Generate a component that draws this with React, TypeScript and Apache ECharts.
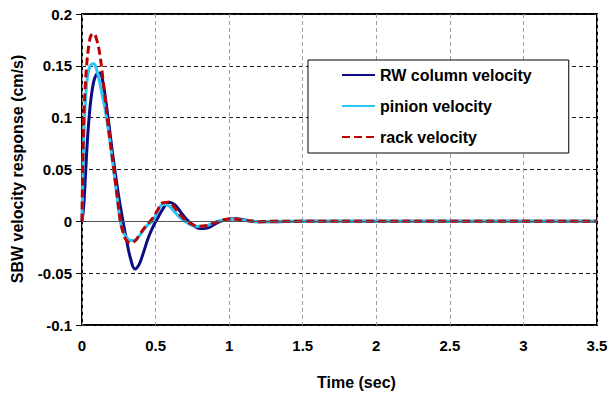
import React, { useEffect, useRef } from "react";
import * as echarts from "echarts";

const timeSec = [0, 0.01, 0.02, 0.03, 0.04, 0.05, 0.06, 0.08, 0.1, 0.12, 0.14, 0.16, 0.18, 0.2, 0.22, 0.24, 0.26, 0.28, 0.3, 0.33, 0.36, 0.39, 0.42, 0.45, 0.48, 0.51, 0.55, 0.59, 0.63, 0.67, 0.71, 0.75, 0.8, 0.85, 0.9, 0.95, 1.0, 1.05, 1.1, 1.2, 1.3, 1.5, 2, 2.5, 3, 3.5];

const rwColumn = [0, 0.012, 0.035, 0.062, 0.085, 0.103, 0.117, 0.135, 0.142, 0.143, 0.136, 0.118, 0.097, 0.074, 0.053, 0.033, 0.015, -0.001, -0.016, -0.036, -0.046, -0.041, -0.029, -0.016, -0.006, 0.002, 0.012, 0.0183, 0.016, 0.009, 0.002, -0.003, -0.007, -0.0065, -0.003, 0.0005, 0.0022, 0.0025, 0.0015, -0.0005, -0.0004, 0, 0, 0, 0, 0];

const pinion = [0, 0.07, 0.108, 0.13, 0.142, 0.148, 0.151, 0.152, 0.146, 0.134, 0.12, 0.106, 0.087, 0.066, 0.044, 0.022, 0.0, -0.01, -0.015, -0.0185, -0.0185, -0.014, -0.008, -0.003, 0.0, 0.008, 0.0165, 0.015, 0.009, 0.003, -0.001, -0.004, -0.005, -0.004, -0.001, 0.001, 0.002, 0.002, 0.001, -0.0003, 0, 0, 0, 0, 0, 0];

const rack = [0, 0.09, 0.125, 0.148, 0.163, 0.173, 0.179, 0.181, 0.175, 0.162, 0.14, 0.115, 0.09, 0.068, 0.046, 0.023, 0.001, -0.011, -0.018, -0.021, -0.019, -0.013, -0.007, -0.002, 0.003, 0.01, 0.018, 0.0185, 0.013, 0.006, 0.0005, -0.003, -0.0048, -0.004, -0.0015, 0.001, 0.0023, 0.002, 0.001, -0.0003, 0, 0, 0, 0, 0, 0];

const seriesNames = ["RW column velocity", "pinion velocity", "rack velocity"];
const xTitle = "Time (sec)";
const yTitle = "SBW velocity response (cm/s)";

const FONT = "'Liberation Sans', Arial, sans-serif";

function pairs(vals: number[]) {
  return timeSec.map((t, i) => [t, vals[i]]);
}

export default function App() {
  const ref = useRef<HTMLDivElement>(null);
  useEffect(() => {
    if (!ref.current) return;
    const chart = echarts.init(ref.current, undefined, { renderer: "svg" });
    chart.setOption({
      animation: false,
      backgroundColor: "#fff",
      textStyle: { fontFamily: FONT },
      grid: {
        left: 82,
        right: 14,
        top: 14,
        bottom: 73,
        show: true,
        borderColor: "#000",
        borderWidth: 2,
        backgroundColor: "transparent",
      },
      xAxis: {
        type: "value",
        min: 0,
        max: 3.5,
        interval: 0.5,
        axisLine: { show: false },
        axisTick: { show: false },
        axisLabel: {
          margin: 13,
          fontSize: 15,
          fontWeight: "bold",
          color: "#000",
          fontFamily: FONT,
        },
        splitLine: {
          show: true,
          lineStyle: { color: "#a0a0a0", type: [4, 3], width: 1 },
        },
      },
      yAxis: {
        type: "value",
        min: -0.1,
        max: 0.2,
        interval: 0.05,
        axisLine: { show: false },
        axisTick: {
          show: true,
          inside: false,
          length: 6,
          lineStyle: { color: "#000", width: 1 },
        },
        axisLabel: {
          margin: 10,
          fontSize: 15,
          fontWeight: "bold",
          color: "#000",
          fontFamily: FONT,
          formatter: (v: number) => String(Math.round(v * 100) / 100),
        },
        splitLine: {
          show: true,
          lineStyle: { color: "#222", type: [4, 3], width: 1 },
        },
      },
      legend: {
        orient: "vertical",
        left: 308,
        top: 60,
        padding: [7, 37, 8, 33],
        itemGap: 15,
        itemWidth: 33,
        itemHeight: 16,
        itemStyle: { opacity: 0 },
        backgroundColor: "#fff",
        borderColor: "#000",
        borderWidth: 1,
        borderRadius: 0,
        textStyle: {
          fontSize: 16,
          fontWeight: "bold",
          color: "#000",
          fontFamily: FONT,
          lineHeight: 16,
        },
        data: seriesNames,
      },
      graphic: [
        {
          type: "text",
          left: 317,
          top: 374,
          style: {
            text: xTitle,
            fontSize: 16,
            fontWeight: "bold",
            fill: "#000",
            fontFamily: FONT,
          },
        },
        {
          type: "text",
          x: 17,
          y: 169,
          rotation: Math.PI / 2,
          style: {
            text: yTitle,
            fontSize: 16,
            fontWeight: "bold",
            fill: "#000",
            fontFamily: FONT,
            align: "center",
            verticalAlign: "middle",
          },
        },
      ],
      series: [
        {
          name: seriesNames[0],
          type: "line",
          data: pairs(rwColumn),
          smooth: 0.4,
          symbol: "none",
          color: "#0b0b84",
          lineStyle: { color: "#0b0b84", width: 3 },
          markLine: {
            silent: true,
            symbol: "none",
            label: { show: false },
            lineStyle: { color: "#555", type: "solid", width: 1 },
            data: [{ yAxis: 0 }],
          },
          z: 2,
        },
        {
          name: seriesNames[1],
          type: "line",
          data: pairs(pinion),
          smooth: 0.4,
          symbol: "none",
          color: "#29c5f6",
          lineStyle: { color: "#29c5f6", width: 3 },
          z: 3,
        },
        {
          name: seriesNames[2],
          type: "line",
          data: pairs(rack),
          smooth: 0.4,
          symbol: "none",
          color: "#c00000",
          lineStyle: { color: "#c00000", width: 3, type: [8, 4] },
          z: 4,
        },
      ],
    });
    return () => chart.dispose();
  }, []);
  return (
    <div
      ref={ref}
      style={{ position: "fixed", left: 0, top: 0, width: 611, height: 398 }}
    />
  );
}
